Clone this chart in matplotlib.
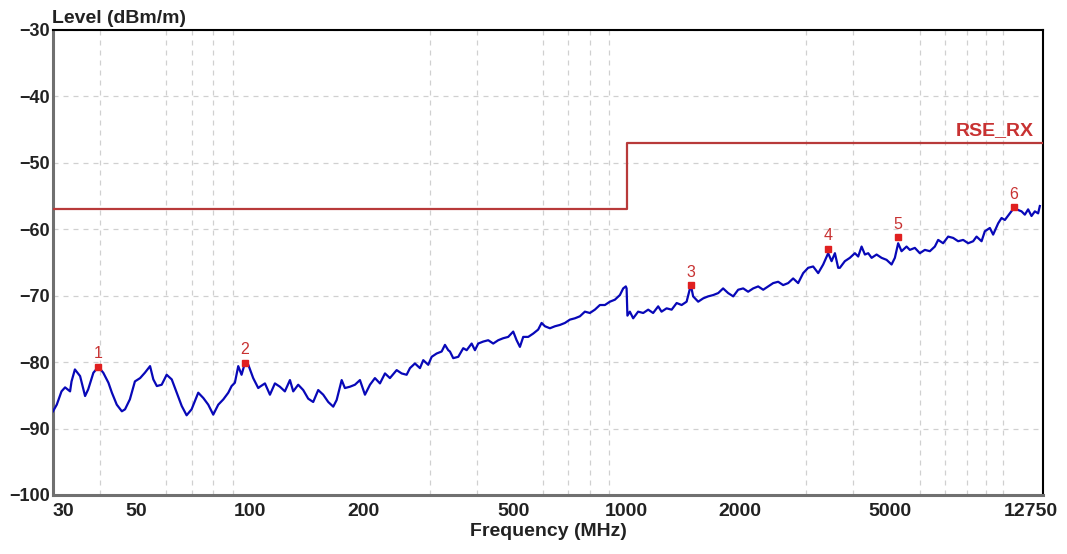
import matplotlib
matplotlib.use('Agg')
import matplotlib.pyplot as plt
import matplotlib.transforms as mtransforms

plt.rcParams['font.family'] = ['Liberation Sans', 'DejaVu Sans']

trace_freq = [
    30.0, 30.7, 31.6, 32.3, 33.3, 33.6, 34.3, 35.4, 36.5, 37.2, 38.4, 39.6, 40.8, 42.1,
    43.0, 44.3, 45.7, 46.6, 48.0, 49.5, 51.1, 52.6, 54.3, 55.4, 56.6, 58.3, 60.1, 62.0,
    63.9, 65.9, 67.9, 70.0, 72.9, 75.2, 77.5, 79.9, 82.4, 85.0, 87.6, 89.4, 91.2, 93.1,
    95.0, 97.0, 99.0, 102.0, 105.2,
    106.3, 109.6, 113.0, 116.5, 120.1, 123.8, 127.7, 130.3, 134.3, 138.5, 142.8, 147.2,
    151.8, 156.5, 161.4, 166.4, 169.9, 175.2, 178.7, 184.3, 190.0, 195.9, 202.0, 208.3,
    214.7, 221.4, 228.3, 235.3, 245.2, 252.8, 260.6, 266.0, 274.2, 282.7, 288.5, 297.4,
    303.7, 313.1, 322.8, 329.4, 336.1,
    339.6, 346.5, 357.3, 368.4, 376.2, 387.8, 395.7, 403.7, 416.3, 429.2, 442.5, 456.2,
    470.3, 484.9, 500.0, 510.5, 520.9, 531.5, 548.0, 565.0, 582.4, 594.7, 607.0, 625.8,
    645.2, 665.2, 685.8, 707.1, 729.0, 751.6, 774.9, 798.9, 823.7, 849.3, 875.7, 902.9,
    930.9, 959.8, 979.4, 995.0, 1000.0,
    1005.0, 1020, 1041, 1073, 1107, 1141, 1176, 1213, 1238, 1277, 1317, 1358, 1400, 1443,
    1481, 1502, 1549, 1597, 1646, 1698, 1751, 1804, 1860, 1919, 1978, 2040, 2102, 2168,
    2235, 2305, 2376, 2450, 2526, 2604, 2685, 2768, 2854, 2943, 3034, 3128, 3226, 3326,
    3429, 3501, 3573, 3645,
    3683, 3797, 3915, 4037, 4120, 4206, 4292, 4380, 4472, 4610, 4753, 4900, 5052, 5155,
    5260, 5370, 5537, 5649, 5825, 6005, 6192, 6384, 6582, 6717, 6925, 7140, 7362, 7590,
    7826, 8069, 8319, 8494, 8758, 8935, 9213, 9401, 9694, 9897, 10098, 10411, 10669,
    10845, 11182, 11410, 11642, 11886, 12130, 12376, 12505,
]
trace_level = [
    -87.4, -86.4, -84.4, -83.8, -84.4, -82.9, -81.1, -82.1, -85.1, -84.1, -81.6, -80.7, -81.6, -83.1,
    -84.6, -86.4, -87.4, -87.1, -85.6, -82.9, -82.4, -81.6, -80.6, -82.6, -83.6, -83.4, -81.9, -82.6,
    -84.6, -86.6, -88.0, -87.1, -84.6, -85.4, -86.4, -87.9, -86.4, -85.6, -84.6, -83.6, -83.1, -80.6,
    -81.9, -80.1, -80.4, -82.4, -83.9,
    -83.7, -83.2, -84.9, -83.2, -83.7, -84.4, -82.7, -84.4, -83.4, -84.2, -85.5, -86.0,
    -84.2, -84.9, -86.0, -86.7, -85.7, -82.7, -83.9, -83.7, -83.4, -82.7, -84.9, -83.4,
    -82.4, -83.2, -81.7, -82.4, -81.2, -81.7, -81.9, -80.9, -80.2, -80.9, -79.7, -80.4,
    -79.2, -78.7, -78.4, -77.4, -78.2,
    -78.4, -79.4, -79.2, -77.9, -78.2, -77.2, -78.2, -77.2, -76.9, -76.7, -77.2, -76.7,
    -76.4, -76.2, -75.4, -76.7, -77.7, -76.2, -76.2, -75.7, -75.1, -74.1, -74.6, -74.9,
    -74.6, -74.4, -74.1, -73.6, -73.4, -73.1, -72.4, -72.6, -72.1, -71.4, -71.4, -70.9,
    -70.6, -69.9, -68.9, -68.6, -68.9,
    -73.0, -72.4, -73.4, -72.4, -72.6, -72.1, -72.6, -71.6, -72.4, -71.9, -72.1, -71.1, -71.4, -70.9,
    -68.4, -70.1, -70.9, -70.4, -70.1, -69.9, -69.6, -68.9, -69.6, -70.1, -69.1, -68.9, -69.4, -68.9,
    -68.6, -69.1, -68.6, -68.1, -67.9, -68.4, -68.1, -67.4, -68.1, -66.6, -65.8, -65.6, -66.6, -65.3,
    -63.6, -64.8, -63.6, -65.8,
    -65.8, -64.8, -64.3, -63.6, -64.1, -62.6, -63.8, -63.6, -64.3, -63.8, -64.3, -64.6, -65.3, -64.3,
    -62.1, -63.3, -62.6, -63.1, -62.8, -63.6, -63.1, -63.3, -62.6, -61.6, -62.1, -61.1, -61.3, -61.8,
    -61.6, -62.1, -61.8, -61.1, -61.8, -60.3, -59.8, -60.8, -59.1, -58.3, -58.6, -57.6, -56.8,
    -57.0, -57.3, -57.8, -57.0, -58.0, -57.3, -57.6, -56.5,
]

# peak markers
marker_freq = [39.6, 97.0, 1481, 3429, 5260, 10669]
marker_level = [-80.7, -80.1, -68.4, -62.9, -61.2, -56.7]
marker_names = ['1', '2', '3', '4', '5', '6']

# limit line RSE_RX
limit_freq = [30, 1000, 1000, 12750]
limit_level = [-57, -57, -47, -47]

xtick_vals = [30, 50, 100, 200, 500, 1000, 2000, 5000, 12750]
xtick_labels = ['30', '50', '100', '200', '500', '1000', '2000', '5000', '12750']
xgrid_vals = ([40, 50, 60, 70, 80, 90, 100] + [200, 300, 400, 500, 600, 700, 800, 900, 1000]
              + [2000, 3000, 4000, 5000, 6000, 7000, 8000, 9000, 10000])
ytick_vals = [-100, -90, -80, -70, -60, -50, -40, -30]

fig = plt.figure(figsize=(10.67, 5.54), dpi=100)
ax = fig.add_axes([53 / 1067, 1 - 495 / 554, 990 / 1067, 465 / 554])

ax.plot(limit_freq, limit_level, color='#b83a3a', lw=1.6, zorder=3)
ax.plot(trace_freq, trace_level, color='#0808b8', lw=1.6, zorder=4)
ax.plot(marker_freq, marker_level, 's', color='#e02020', ms=4, zorder=5)
for f, l, name in zip(marker_freq, marker_level, marker_names):
    ax.annotate(name, (f, l), xytext=(0, 4), textcoords='offset points',
                ha='center', va='bottom', color='#c83232', fontsize=11.5, zorder=6)

ax.annotate('RSE_RX', (limit_freq[-1], limit_level[-1]), xytext=(-7, 3),
            textcoords='offset points', ha='right', va='bottom',
            color='#c83232', fontsize=14, fontweight='bold')

ax.set_xscale('log')
ax.set_xlim(30, 12750)
ax.set_ylim(-100, -30)

ax.set_xticks(xtick_vals)
ax.set_xticklabels(xtick_labels)
ax.set_xticks(xgrid_vals, minor=True)
ax.set_xticklabels([], minor=True)
ax.set_yticks(ytick_vals)

ax.tick_params(axis='both', which='both', length=0)
ax.tick_params(axis='x', pad=6, labelsize=14)
ax.tick_params(axis='y', pad=2, labelsize=13)
for lbl in ax.get_xticklabels() + ax.get_yticklabels():
    lbl.set_fontweight('bold')
    lbl.set_color('#222222')

xl = ax.get_xticklabels()
xl[0].set_horizontalalignment('left')
xl[-1].set_transform(xl[-1].get_transform() +
                     mtransforms.ScaledTranslation(-12 / 100, 0, fig.dpi_scale_trans))

ax.grid(which='minor', axis='x', color='#d0d0d0', lw=0.9, ls=(0, (4, 4)))
ax.grid(which='major', axis='y', color='#d0d0d0', lw=0.9, ls=(0, (4, 4)))
ax.set_axisbelow(True)

for side in ['left', 'bottom']:
    ax.spines[side].set_color('#707070')
    ax.spines[side].set_linewidth(2.2)
for side in ['top', 'right']:
    ax.spines[side].set_color('black')
    ax.spines[side].set_linewidth(1.5)

ax.set_xlabel('Frequency (MHz)', fontsize=14, fontweight='bold', labelpad=2, color='#222222')
fig.text(52 / 1067, 1 - 18.5 / 554, 'Level (dBm/m)', ha='left', va='center',
         fontsize=14, fontweight='bold', color='#222222')

fig.savefig('out.png', dpi=100)
